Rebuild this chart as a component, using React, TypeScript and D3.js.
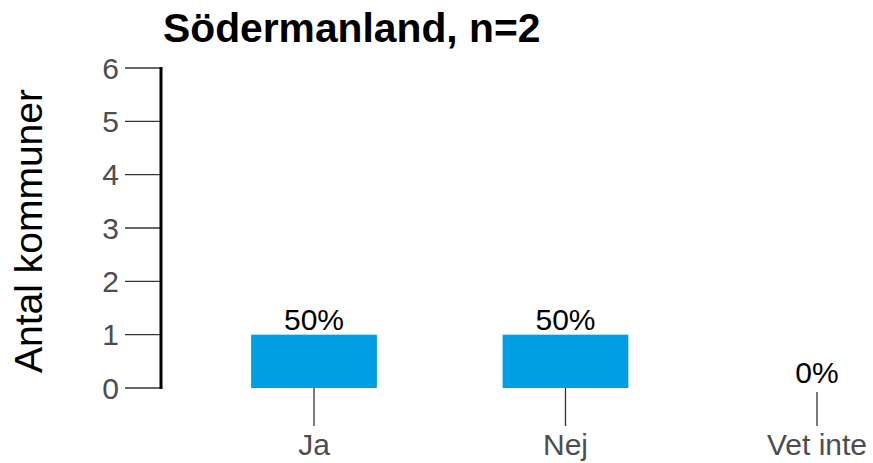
import React from "react";
import * as d3 from "d3";

const categories = ["Ja", "Nej", "Vet inte"];
const counts = [1, 1, 0];
const percentLabels = ["50%", "50%", "0%"];
const yTicks = [0, 1, 2, 3, 4, 5, 6];
const title = "Södermanland, n=2";
const yTitle = "Antal kommuner";

export default function App() {
  const W = 873, H = 463;
  const font = "'Liberation Sans', Arial, sans-serif";
  const y = d3.scaleLinear().domain([0, 6]).range([388, 68]);
  const x = d3.scalePoint<string>().domain(categories).range([188.25, 942.75]).padding(0.5);
  const step = x.step();
  const bw = step * 0.5;
  return (
    <svg width={W} height={H} style={{ position: "absolute", left: 0, top: 0, background: "#fff" }}>
      <text x={163} y={42} fontFamily={font} fontWeight="bold" fontSize={40.8} fill="#000">{title}</text>
      <text transform={`translate(42,231) rotate(-90)`} textAnchor="middle" fontFamily={font} fontSize={39} fill="#000">{yTitle}</text>
      {yTicks.map((t) => (
        <g key={t}>
          <line x1={125} x2={161} y1={y(t)} y2={y(t)} stroke="#333" strokeWidth={1.3} />
          <text x={119} y={y(t)} dy="0.36em" textAnchor="end" fontFamily={font} fontSize={30} fill="#4d4d4d">{t}</text>
        </g>
      ))}
      <line x1={161} x2={161} y1={y(6) - 1} y2={y(0) + 1} stroke="#000" strokeWidth={3} />
      {categories.map((c, i) => {
        const cx = x(c)!;
        return (
          <g key={c}>
            {counts[i] > 0 && (
              <rect x={cx - bw / 2} y={y(counts[i])} width={bw} height={y(0) - y(counts[i])} fill="#009fe3" />
            )}
            <text x={cx} y={y(counts[i]) - 5} textAnchor="middle" fontFamily={font} fontSize={30} fill="#000">{percentLabels[i]}</text>
            <line x1={cx} x2={cx} y1={counts[i] > 0 ? y(0) : 392} y2={426} stroke="#333" strokeWidth={1.3} />
            <text x={cx} y={455} textAnchor="middle" fontFamily={font} fontSize={30} fill="#4d4d4d">{c}</text>
          </g>
        );
      })}
    </svg>
  );
}
